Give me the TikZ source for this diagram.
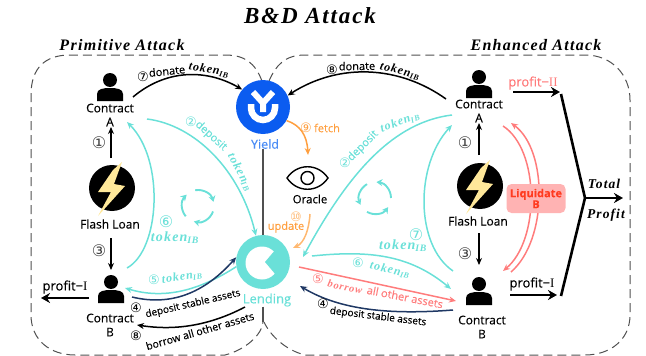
\documentclass[tikz,border=0pt]{standalone}
\usepackage{fontspec}
\setmainfont[FakeBold=0.25]{Open Sans}
\newfontfamily\capfont[LetterSpace=8]{Liberation Serif}
\newfontfamily\romanfont{Liberation Serif}
\newfontfamily\numfont{DejaVu Sans}
\usetikzlibrary{arrows.meta}
\definecolor{cyanline}{HTML}{6AE0D8}
\definecolor{bluecoin}{HTML}{0B5CF0}
\definecolor{blueword}{HTML}{4A8CF5}
\definecolor{navyline}{HTML}{1F3864}
\definecolor{pinkline}{HTML}{FF7C7C}
\definecolor{pinkbox}{HTML}{FFB3B3}
\definecolor{redword}{HTML}{FF3B20}
\definecolor{orangeline}{HTML}{FF9F3F}
\definecolor{orangesoft}{HTML}{FFB870}
\definecolor{boltyellow}{HTML}{FFE89A}
\definecolor{dashgray}{HTML}{505050}
\newcommand{\serif}[1]{{\capfont\bfseries\itshape #1}}
\newcommand{\tok}{\serif{token\textsubscript{IB}}}
\newcommand{\num}[1]{{\numfont #1}}
\tikzset{
    boxline/.style={draw=dashgray, line width=1pt, dash pattern=on 9pt off 5pt},
    coin/.style={circle, minimum size=54pt, inner sep=0pt},
    word/.style={font=\fontsize{12}{14}\selectfont, inner sep=0pt, align=center},
    label/.style={font=\fontsize{11}{12}\selectfont, inner sep=0pt},
    small/.style={font=\fontsize{10}{11}\selectfont, inner sep=0pt},
    tag/.style={font=\fontsize{12}{14}\selectfont, inner sep=0pt},
    bigtag/.style={font=\fontsize{14}{15}\selectfont, inner sep=0pt},
    mark small/.style={font=\fontsize{13}{14}\selectfont, inner sep=0pt},
    mark big/.style={font=\fontsize{16}{17}\selectfont, inner sep=0pt},
    link/.style={line width=1.5pt, -{Stealth[length=7pt,width=6pt]}},
    flow/.style={link, cyanline},
    thick arrow/.style={line width=2.4pt, -{Stealth[length=9pt,width=10pt]}},
    person/.pic={
        \fill (0,-8) circle (7);
        \fill (-13,13) -- (-13,6) .. controls (-13,1) and (-7,0) .. (0,0)
            .. controls (7,0) and (13,1) .. (13,6) -- (13,13) -- cycle;
    },
    flash/.pic={
        \fill[black] (0,0) circle (23);
        \fill[boltyellow] (10,-26) -- (1,-18) -- (-14,4) -- (-1,4) -- (-14,28)
            -- (13,-2) -- (2,-4) -- cycle;
    },
    turn/.pic={
        \foreach \a in {20,140,260}
            \draw[cyanline, line width=1.9pt, -{Stealth[length=6pt,width=7pt]}]
                (\a:16) arc[start angle=\a, delta angle=85, radius=16];
    },
    turn back/.pic={
        \foreach \a in {120,240,360}
            \draw[cyanline, line width=1.9pt, -{Stealth[length=6pt,width=7pt]}]
                (\a:16) arc[start angle=\a, delta angle=-85, radius=16];
    },
}
\begin{document}
\begin{tikzpicture}[x=1pt,y=-1pt]
    \useasboundingbox (0,0) rectangle (646,356);
    % dashed frames
    \draw[boxline] (262,81) .. controls (255,63) and (245,55) .. (225,55) -- (70,55)
        .. controls (45,55) and (31,68) .. (31,95) -- (31,315)
        .. controls (31,340) and (50,355) .. (75,355) -- (225,355)
        .. controls (245,350) and (262,335) .. (263,322);
    \draw[boxline] (269,81) .. controls (276,65) and (285,55) .. (305,55) -- (585,55)
        .. controls (612,55) and (630,75) .. (630,100) -- (630,315)
        .. controls (630,340) and (610,355) .. (585,355) -- (305,355)
        .. controls (285,350) and (270,335) .. (264,322);
    \node[font=\fontsize{23}{26}\selectfont] (title) at (310,16) {\serif{B\&D Attack}};
    \node[font=\fontsize{16}{18}\selectfont] (primitive) at (122,45) {\serif{Primitive Attack}};
    \node[font=\fontsize{16}{18}\selectfont] (enhanced) at (536,45) {\serif{Enhanced Attack}};

    % protocols
    \node[coin, fill=bluecoin] (yield) at (263,107) {};
    \node[coin, fill=cyanline] (lending) at (263,262) {};
    \draw[white, line width=6pt] (253,92) -- (263,103) -- (273,92) (263,103) -- (263,112);
    \draw[white, line width=6.5pt] (251,104) -- (251,108) arc[start angle=180, delta angle=-180, radius=12] -- (275,104);
    \fill[white] (262,263) circle (16.5);
    \fill[cyanline] (265,262) -- (276,249) -- (286,262) -- (276,275) -- cycle;
    \node[word, font=\fontsize{12.5}{14}\selectfont, text=blueword] (yieldname) at (265,144) {Yield};
    \node[word, font=\fontsize{13}{14}\selectfont, text=cyanline] (lendingname) at (267,300) {Lending};
    \draw[dashgray, line width=1.2pt] (yieldname.south -| yield) -- (lending.north);
    \draw[dashgray, line width=1.2pt] (lendingname.south -| lending) -- (263,322);

    % oracle
    \draw[line width=1.4pt] (287,178) .. controls (297,163) and (318,163) .. (328,178)
        .. controls (318,193) and (297,193) .. (287,178) -- cycle;
    \draw[line width=1.4pt] (307.5,178) circle (6.5);
    \node[label, font=\fontsize{11.5}{12}\selectfont] (oracle) at (310,199) {Oracle};

    % left parties
    \pic at (110,88) {person};
    \node[word] (conAL) at (110,115) {Contract\\A};
    \pic at (112,188) {flash};
    \node[word] (loanL) at (110,224) {Flash Loan};
    \pic at (111,290) {person};
    \node[word] (conBL) at (110,325) {Contract\\B};

    % right parties
    \pic at (479,85) {person};
    \node[word] (conAR) at (479,111) {Contract\\A};
    \pic at (480,186) {flash};
    \node[word] (loanR) at (478,221) {Flash Loan};
    \pic at (479,292) {person};
    \node[word] (conBR) at (482,327) {Contract\\B};

    % free ends of the curves
    \foreach \n/\x/\y in {a/133/97, b/147/119, c/127/122, d/127/268, e/125/288, f/132/297,
        g/137/325, h/446/99, i/452/115, j/452/125, k/453/271, l/451/289, m/456/301,
        n/453/310, p/503/126, q/503/271, r/511/272, s/511/123, t/561/94, u/561/296,
        v/585/198, w/623/198, x/41/298, y/89/298, z/513/92}
        \coordinate (\n) at (\x,\y);
    \coordinate (zz) at (560,92);
    \coordinate (pa) at (510,295);
    \coordinate (pb) at (557,295);
    \coordinate (ua) at (310,214);
    \coordinate (ub) at (293,248);
    \coordinate (ga) at (245,307);
    \coordinate (ia) at (303,257);

    % steps on the left
    \draw[link] (111,158) -- (111,127);
    \draw[link, line width=1.2pt] (111,238) -- (111,270);
    \draw[link] (a) .. controls (165,70) and (205,68) .. (yield.140);
    \draw[flow] (b) .. controls (195,125) and (240,170) .. (lending.105);
    \draw[flow] (d) .. controls (160,250) and (165,160) .. (c);
    \draw[flow] (lending.190) .. controls (200,290) and (165,300) .. (e);
    \draw[link, navyline] (f) .. controls (165,305) and (200,298) .. (lending.170);
    \draw[link] (ga) .. controls (205,328) and (170,330) .. (g);
    \node[mark big, text=black!75] (n1L) at (99,143) {\num{①}};
    \node[mark big, text=black!75] (n3L) at (99,251) {\num{③}};
    \node[mark big, text=cyanline] (n6L) at (166,222) {\num{⑥}};
    \node[bigtag, text=cyanline] (t6L) at (175,238) {\tok};
    \node[mark small] (n7L) at (143,77) {\num{⑦}};
    \node[label, rotate=6] (d7L) at (167,71) {donate};
    \node[tag, rotate=-10] (t7L) at (209,70) {\tok};
    \node[mark small, text=cyanline] (n2L) at (191,122) {\num{②}};
    \node[label, text=cyanline, rotate=-42] (d2L) at (211,136) {deposit};
    \node[tag, text=cyanline, rotate=-62] (t2L) at (240,172) {\tok};
    \node[mark small, text=cyanline] (n5L) at (154,280) {\num{⑤}};
    \node[tag, text=cyanline, rotate=8] (t5L) at (182,277) {\tok};
    \node[mark small] (n4L) at (136,308) {\num{④}};
    \node[small, rotate=13] (d4L) at (193,304) {deposit stable assets};
    \node[mark small] (n8L) at (136,336) {\num{⑧}};
    \node[small, font=\fontsize{10.5}{11}\selectfont, rotate=16] (d8L) at (200,331) {borrow all other assets};
    \node[inner sep=0pt, font=\fontsize{13}{14}\selectfont] (profitL) at (65,287) {profit−{\romanfont I}};
    \draw[thick arrow] (y) -- (x);
    \pic at (198,206) {turn};

    % steps on the right
    \draw[link] (479,155) -- (479,123);
    \draw[link, line width=1.2pt] (479,233) -- (479,265);
    \draw[link] (h) .. controls (400,66) and (340,62) .. (yield.25);
    \draw[flow] (i) .. controls (395,122) and (350,170) .. (ia);
    \draw[flow] (k) .. controls (415,245) and (415,165) .. (j);
    \draw[flow] (312,256) .. controls (370,250) and (410,255) .. (l);
    \draw[link, pinkline] (299,267) -- (m);
    \draw[link, navyline] (n) .. controls (390,315) and (340,310) .. (300,286);
    \draw[link, pinkline] (p) .. controls (540,150) and (540,240) .. (q);
    \draw[link, pinkline] (r) .. controls (548,240) and (548,150) .. (s);
    \draw[link, orangeline] (yield.-30) .. controls (300,125) and (307,135) .. (308,155);
    \draw[link, orangesoft] (ua) .. controls (309,230) and (304,243) .. (ub);
    \node[mark big, text=black!75] (n1R) at (465,143) {\num{①}};
    \node[mark big, text=black!75] (n3R) at (465,254) {\num{③}};
    \node[mark small] (n8R) at (332,70) {\num{⑧}};
    \node[label, rotate=1] (d8R) at (357,66) {donate};
    \node[tag, rotate=-14] (t8R) at (400,71) {\tok};
    \node[mark small, text=cyanline] (n2R) at (345,163) {\num{②}};
    \node[label, text=cyanline, rotate=45] (d2R) at (363,146) {deposit};
    \node[tag, text=cyanline, rotate=20] (t2R) at (400,122) {\tok};
    \node[mark big, text=cyanline] (n7R) at (416,235) {\num{⑦}};
    \node[bigtag, text=cyanline] (t7R) at (403,246) {\tok};
    \node[mark small, text=cyanline] (n6R) at (358,263) {\num{⑥}};
    \node[tag, text=cyanline, rotate=-12] (t6R) at (390,270) {\tok};
    \node[mark small, text=pinkline] (n5R) at (318,279) {\num{⑤}};
    \node[font=\fontsize{10.5}{12}\selectfont, inner sep=0pt, text=pinkline, rotate=-12] (b5R) at (345,287) {\serif{borrow}};
    \node[label, text=pinkline, rotate=-11] (d5R) at (405,297) {all other assets};
    \node[mark small] (n4R) at (323,304) {\num{④}};
    \node[small, rotate=-7] (d4R) at (378,317) {deposit stable assets};
    \node[mark small, text=orangeline] (n9) at (306,128) {\num{⑨}};
    \node[label, text=orangeline] (fetch) at (327,128) {fetch};
    \node[mark small, text=orangesoft] (n10) at (296,217) {\num{⑩}};
    \node[label, text=orangeline] (update) at (286,227) {update};
    \pic at (375,198) {turn back};

    % liquidation and profits
    \node[fill=pinkbox, rounded corners=5pt, minimum width=59pt, minimum height=29pt, inner sep=0pt,
        align=center, text=redword, font=\bfseries\fontsize{11}{11}\selectfont] (liquidate) at (536,198.5) {Liquidate\\B};
    \node[inner sep=0pt, text=pinkline, font=\fontsize{13}{14}\selectfont] (profit2) at (533,83) {profit−{\romanfont II}};
    \node[inner sep=0pt, font=\fontsize{13}{14}\selectfont] (profit1) at (532,284) {profit−{\romanfont I}};
    \draw[thick arrow] (z) -- (zz);
    \draw[thick arrow] (pa) -- (pb);
    \draw[line width=2.6pt] (t) -- (v) -- (u);
    \draw[thick arrow] (v) -- (w);
    \node[font=\fontsize{13.5}{15}\selectfont, inner sep=0pt] (total) at (604,184) {\serif{Total}};
    \node[font=\fontsize{13.5}{15}\selectfont, inner sep=0pt] (profit) at (606,215) {\serif{Profit}};
\end{tikzpicture}
\end{document}
